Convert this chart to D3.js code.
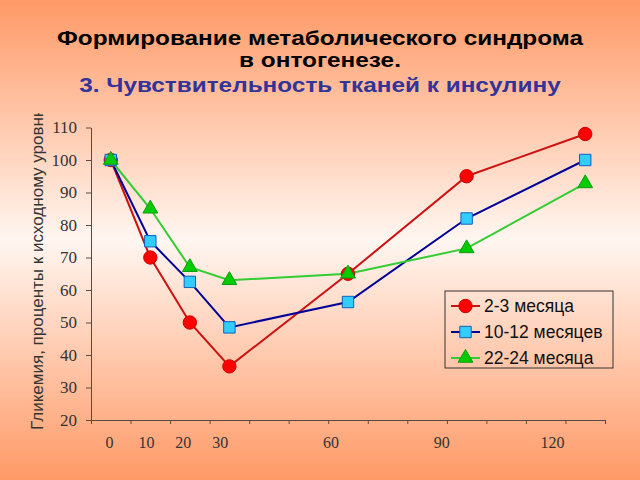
<!DOCTYPE html>
<html><head><meta charset="utf-8">
<script src="https://cdn.jsdelivr.net/npm/d3@7"></script>
<style>html,body{margin:0;padding:0;background:#fff}svg{display:block}</style>
</head><body>
<script>
const months = [0, 10, 20, 30, 60, 90, 120];
const labelTicks = [0, 10, 20, 30, 60, 90, 120];
const yTicks = [20, 30, 40, 50, 60, 70, 80, 90, 100, 110];
const seriesNames = ["2-3 месяца", "10-12 месяцев", "22-24 месяца"];
const red = [100, 70, 50, 36.5, 65, 95, 108];
const blue = [100, 75, 62.5, 48.5, 56.3, 82, 100];
const green = [100, 85, 67, 63, 65, 72.8, 92.8];
const titleLines = ["Формирование метаболического синдрома", "в онтогенезе.", "3. Чувствительность тканей к инсулину"];
const yTitle = "Гликемия, проценты к исходному уровню";

const W = 640, H = 480;
const svg = d3.select("body").append("svg").attr("width", W).attr("height", H);
const defs = svg.append("defs");
const grad = defs.append("linearGradient").attr("id", "bg").attr("x1", 0).attr("y1", 0).attr("x2", 0).attr("y2", 1);
grad.append("stop").attr("offset", "0%").attr("stop-color", "#ff9966");
grad.append("stop").attr("offset", "50%").attr("stop-color", "#fff6f0");
grad.append("stop").attr("offset", "100%").attr("stop-color", "#ff9966");
svg.append("rect").attr("width", W).attr("height", H).attr("fill", "url(#bg)");

// Title
const tcol = ["#000000", "#000000", "#333399"];
const tY = [45, 67, 92];
titleLines.forEach((t, i) => {
  svg.append("text").attr("transform", `translate(320,${tY[i]}) scale(1.16,1)`).attr("text-anchor", "middle")
    .attr("font-family", "Liberation Sans, Arial, sans-serif").attr("font-weight", "bold")
    .attr("font-size", 21).attr("fill", tcol[i]).text(t);
});

const x = d3.scaleLinear().domain([-5, 125]).range([91, 605]);
const xLab = d3.scaleLinear().domain([0, 120]).range([109, 552]);
const y = d3.scaleLinear().domain([20, 110]).range([420, 127.5]);

const axisColor = "#5a4a40";
// x axis ticks
const gx = svg.append("g").attr("transform", "translate(0,420)")
  .call(d3.axisBottom(x).tickValues(d3.range(-5, 126, 10)).tickSize(4).tickSizeOuter(0).tickFormat(""));
gx.select(".domain").attr("stroke", axisColor);
gx.selectAll(".tick line").attr("stroke", axisColor);
// x labels
const gxl = svg.append("g").attr("transform", "translate(0,420)")
  .call(d3.axisBottom(xLab).tickValues(labelTicks).tickSize(0).tickPadding(17));
gxl.select(".domain").remove();
gxl.selectAll(".tick text").attr("font-family", "Liberation Serif, Times New Roman, serif")
  .attr("font-size", 16).attr("fill", "#333");

// y axis
const gy = svg.append("g").attr("transform", "translate(91,0)")
  .call(d3.axisLeft(y).tickValues(yTicks).tickSize(5).tickSizeOuter(0).tickPadding(9));
gy.select(".domain").attr("stroke", axisColor);
gy.selectAll(".tick line").attr("stroke", axisColor);
gy.selectAll(".tick text").attr("font-family", "Liberation Serif, Times New Roman, serif")
  .attr("font-size", 17).attr("fill", "#333");

// y title, clipped at top
defs.append("clipPath").attr("id", "ytc").append("rect").attr("x", 0).attr("y", 113).attr("width", 60).attr("height", 340);
svg.append("g").attr("clip-path", "url(#ytc)").append("text")
  .attr("transform", "translate(43,430) rotate(-90)")
  .attr("font-family", "Liberation Sans, Arial, sans-serif").attr("font-size", 17)
  .attr("fill", "#333").text(yTitle);

const series = [
  {name: seriesNames[0], vals: red, line: "#cc1111", fill: "#ff0000", stroke: "#cc0000", shape: d3.symbolCircle, size: 140},
  {name: seriesNames[1], vals: blue, line: "#000099", fill: "#33ccff", stroke: "#1060c0", shape: d3.symbolSquare, size: 130},
  {name: seriesNames[2], vals: green, line: "#33cc33", fill: "#00cc00", stroke: "#119911", shape: d3.symbolTriangle, size: 95}
];
const line = d3.line().x((d, i) => x(months[i])).y(d => y(d));
series.forEach(s => {
  svg.append("path").attr("d", line(s.vals)).attr("fill", "none").attr("stroke", s.line).attr("stroke-width", 2);
});
series.forEach(s => {
  svg.selectAll(null).data(s.vals).enter().append("path")
    .attr("transform", (d, i) => `translate(${x(months[i])},${y(d)})`)
    .attr("d", d3.symbol().type(s.shape).size(s.size))
    .attr("fill", s.fill).attr("stroke", s.stroke).attr("stroke-width", 1);
});

// legend
const lg = svg.append("g");
lg.append("rect").attr("x", 445).attr("y", 291).attr("width", 168).attr("height", 77)
  .attr("fill", "none").attr("stroke", "#333").attr("stroke-width", 1);
series.forEach((s, i) => {
  const cy = 306 + i * 26;
  lg.append("line").attr("x1", 451).attr("x2", 480).attr("y1", cy).attr("y2", cy).attr("stroke", s.line).attr("stroke-width", 2);
  lg.append("path").attr("transform", `translate(465.5,${cy})`).attr("d", d3.symbol().type(s.shape).size(s.size))
    .attr("fill", s.fill).attr("stroke", s.stroke).attr("stroke-width", 1);
  lg.append("text").attr("x", 484).attr("y", cy + 6).attr("font-family", "Liberation Sans, Arial, sans-serif")
    .attr("font-size", 17.5).attr("fill", "#111").text(s.name);
});
</script>
</body></html>
